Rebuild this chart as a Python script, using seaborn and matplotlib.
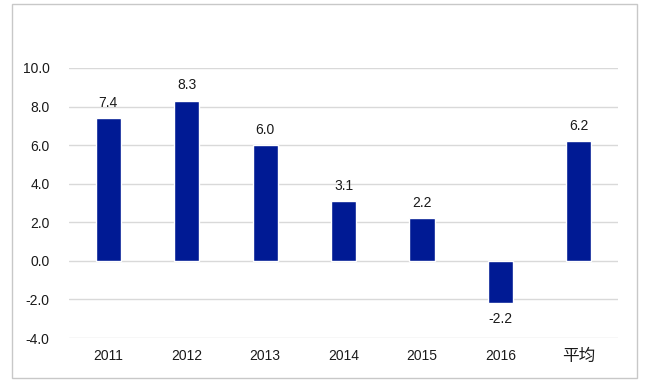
import matplotlib
matplotlib.use('Agg')
import matplotlib.pyplot as plt
import matplotlib.patches as mpatches
import seaborn as sns
import pandas as pd

# data
categories = ['2011', '2012', '2013', '2014', '2015', '2016', '平均']
values = [7.4, 8.3, 6.0, 3.1, 2.2, -2.2, 6.2]
yticks = [-4, -2, 0, 2, 4, 6, 8, 10]

sns.set_style('white')
plt.rcParams['font.family'] = ['Liberation Sans', 'Noto Sans CJK SC', 'DejaVu Sans']
plt.rcParams['font.size'] = 10

df = pd.DataFrame({'year': categories, 'value': values})

fig = plt.figure(figsize=(6.5, 3.82), dpi=100)
ax = fig.add_axes([0.106, 0.115, 0.845, 0.707])

sns.barplot(data=df, x='year', y='value', order=categories, color='#001a94',
            width=0.32, saturation=1, ax=ax, zorder=3)

ax.set_ylim(-4, 10)
ax.set_yticks(yticks)
ax.set_yticklabels([f'{t:.1f}' for t in yticks])
ax.yaxis.grid(True, color='#d9d9d9', linewidth=1, zorder=0)
ax.set_axisbelow(True)
for s in ax.spines.values():
    s.set_visible(False)
ax.tick_params(axis='both', length=0, labelsize=10, colors='#1a1a1a')
ax.tick_params(axis='x', pad=8)
ax.tick_params(axis='y', pad=14)
ax.set_xlabel('')
ax.set_ylabel('')
# CJK label renders a bit larger in the original
ax.get_xticklabels()[-1].set_fontsize(12)

ax.bar_label(ax.containers[0], fmt='%.1f', padding=6, fontsize=10, color='#1a1a1a')

# outer frame
fig.patches.append(mpatches.Rectangle((0.0185, 0.0105), 0.9615, 0.979,
                                      transform=fig.transFigure, fill=False,
                                      edgecolor='#c8c8c8', linewidth=1))

fig.savefig('out.png', dpi=100)
